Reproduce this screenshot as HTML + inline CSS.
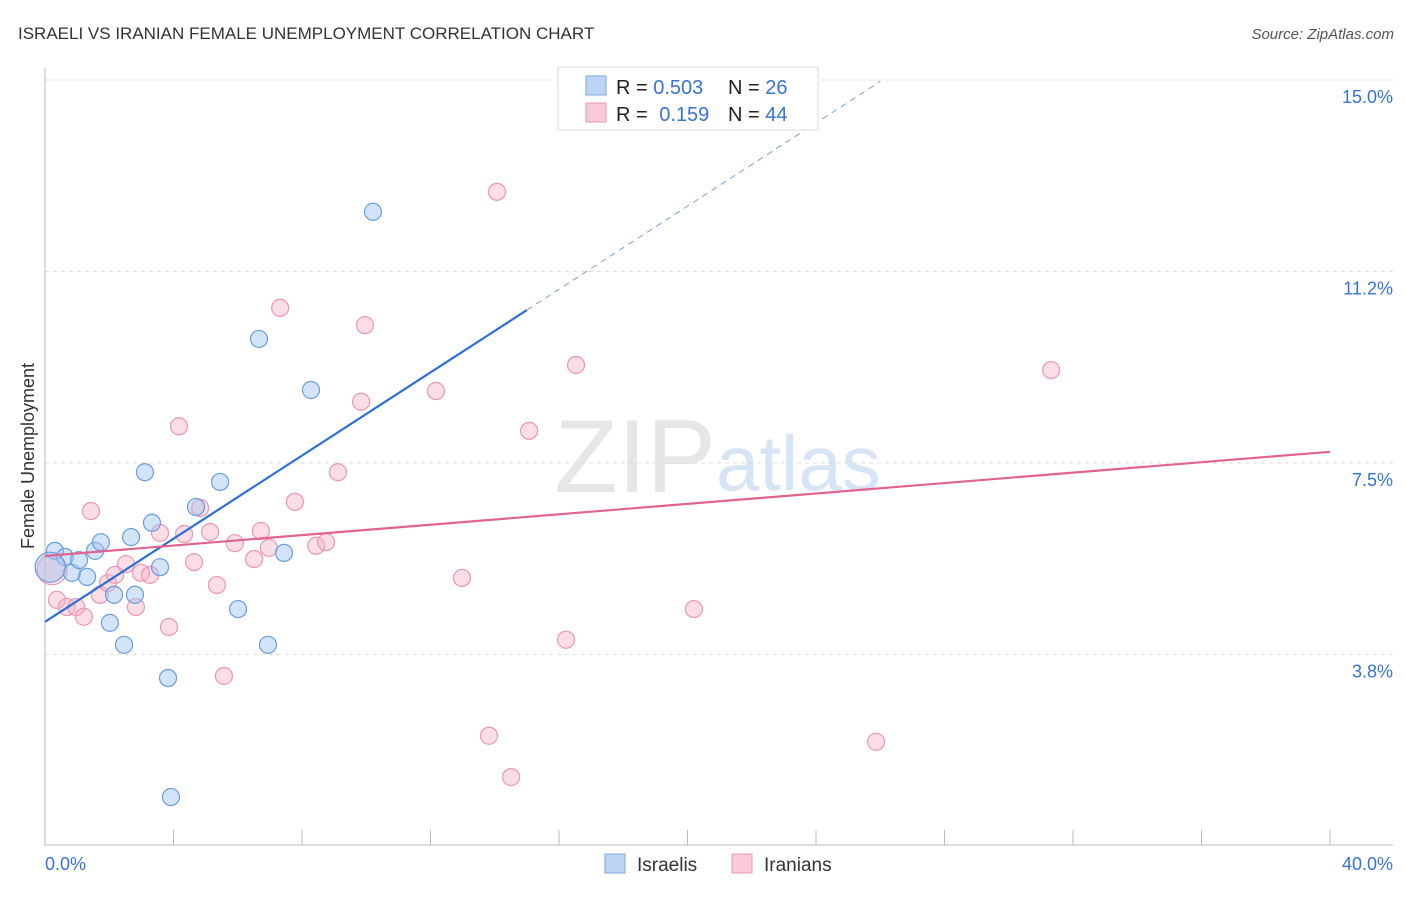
<!DOCTYPE html>
<html><head><meta charset="utf-8"><style>
body{margin:0;background:#fff;font-family:"Liberation Sans",sans-serif}
svg text{font-family:"Liberation Sans",sans-serif}
</style></head><body>
<svg id="c" width="1406" height="892">
<text x="18" y="39" font-size="17" fill="#333">ISRAELI VS IRANIAN FEMALE UNEMPLOYMENT CORRELATION CHART</text>
<text x="1394" y="39" font-size="15" fill="#555" font-style="italic" text-anchor="end">Source: ZipAtlas.com</text>
<text x="716" y="492" font-size="104" fill="#e6e6e6" text-anchor="end" font-family="Liberation Serif">ZIP</text>
<text x="716" y="490" font-size="78" fill="#d6e4f5">atlas</text>
<text transform="translate(34,456) rotate(-90)" font-size="18" fill="#333" text-anchor="middle">Female Unemployment</text>
<g id="grid"></g><g id="marks"></g>
<g>
<rect x="558" y="67" width="260" height="63" fill="#fff" stroke="#ddd"/>
<rect x="586" y="76" width="20" height="19" fill="#bcd5f5" stroke="#7aa8e6"/>
<rect x="586" y="103" width="20" height="19" fill="#f9cad8" stroke="#ec99b3"/>
<text x="616" y="94" font-size="20" fill="#222">R = <tspan fill="#3674d4">0.503</tspan><tspan x="728">N = </tspan><tspan fill="#3674d4">26</tspan></text>
<text x="616" y="121" font-size="20" fill="#222">R = <tspan fill="#3674d4" dx="6">0.159</tspan><tspan x="728">N = </tspan><tspan fill="#3674d4">44</tspan></text>
</g>
<g>
<rect x="605" y="854" width="20" height="19" fill="#bcd5f5" stroke="#7aa8e6"/>
<text x="637" y="871" font-size="19" fill="#333">Israelis</text>
<rect x="732" y="854" width="20" height="19" fill="#f9cad8" stroke="#ec99b3"/>
<text x="764" y="871" font-size="19" fill="#333">Iranians</text>
</g>
</svg>
<script>
const yTicks=[3.75,7.5,11.25,15];
const yTickLabels=["3.8%","7.5%","11.2%","15.0%"];
const xTicks=[0,4,8,12,16,20,24,28,32,36,40];
const israeliX=[0.31,0.62,0.84,1.06,1.31,1.56,1.74,2.15,2.02,2.46,2.68,2.80,3.11,3.33,3.58,3.83,3.92,4.70,5.45,6.01,6.66,6.94,7.44,8.28,10.21,0.16];
const israeliY=[5.78,5.66,5.35,5.60,5.27,5.78,5.95,4.92,4.37,3.94,6.05,4.92,7.32,6.33,5.46,3.29,0.96,6.64,7.13,4.64,9.93,3.94,5.74,8.93,12.42,5.46];
const iranianX=[0.22,0.37,0.68,0.97,1.21,1.43,1.71,1.96,2.18,2.52,2.83,2.99,3.27,3.58,3.86,4.17,4.33,4.64,4.83,5.14,5.35,5.57,5.91,6.51,6.72,6.97,7.32,7.78,8.44,8.75,9.12,9.84,9.96,12.17,12.98,14.07,13.82,14.51,15.07,16.22,16.53,20.20,25.87,31.32];
const iranianY=[5.41,4.82,4.68,4.68,4.49,6.56,4.92,5.15,5.31,5.52,4.68,5.35,5.31,6.13,4.29,8.22,6.11,5.56,6.62,6.15,5.11,3.33,5.93,5.62,6.17,5.84,10.54,6.74,5.88,5.95,7.32,8.70,10.20,8.91,5.25,12.81,2.16,1.35,8.13,4.04,9.42,4.64,2.04,9.32];
const israeliTrend=[4.39,0.407];
const iranianTrend=[5.68,0.051];
const X=v=>45+v*1285/40, Y=v=>80+(15-v)*51.07;
const NS="http://www.w3.org/2000/svg";
function mk(p,t,a){const e=document.createElementNS(NS,t);for(const k in a)e.setAttribute(k,a[k]);p.appendChild(e);return e;}
const g=document.getElementById('grid'), m=document.getElementById('marks');
yTicks.forEach((t,i)=>{
 const l=mk(g,'line',{x1:45,x2:1393,y1:Y(t),y2:Y(t),stroke:'#ddd','stroke-dasharray':'4,4'});
 
 
 const tx=mk(g,'text',{x:1393,y:Y(t)+23,'font-size':18,fill:'#3674d4','text-anchor':'end'});
 tx.textContent=yTickLabels[i];
 
 
});
mk(g,'line',{x1:45,x2:45,y1:68,y2:845,stroke:'#bbb'});
mk(g,'line',{x1:45,x2:1393,y1:845,y2:845,stroke:'#bbb'});
xTicks.forEach(t=>{const l=mk(g,'line',{x1:X(t),x2:X(t),y1:830,y2:845,stroke:'#bbb'});
 
 });
const x0=mk(g,'text',{x:45,y:870,'font-size':18,fill:'#3674d4'});x0.textContent=xTicks[0].toFixed(1)+'%';


const x1=mk(g,'text',{x:1393,y:870,'font-size':18,fill:'#3674d4','text-anchor':'end'});x1.textContent=xTicks[xTicks.length-1].toFixed(1)+'%';


function dots(xs,ys,fill,stroke,name){xs.forEach((x,i)=>{
 const big=i===(name==='israeli'?25:0);
 const c=mk(m,'circle',{cx:X(x),cy:Y(ys[i]),r:big?15:8.5,fill:fill,stroke:stroke,'stroke-width':1.2});
 
 });}
dots(iranianX,iranianY,'rgba(246,180,200,0.45)','#eb97b2','iranian');
dots(israeliX,israeliY,'rgba(160,196,240,0.45)','#6a9de0','israeli');
const b=mk(m,'line',{x1:X(0),y1:Y(israeliTrend[0]),x2:X(15),y2:Y(israeliTrend[0]+15*israeliTrend[1]),stroke:'#2c6fd6','stroke-width':2.2});


const bd=mk(m,'line',{x1:X(15),y1:Y(israeliTrend[0]+15*israeliTrend[1]),x2:X(26),y2:Y(israeliTrend[0]+26*israeliTrend[1]),stroke:'#7aa0d8','stroke-width':1,'stroke-dasharray':'6,5'});


const p=mk(m,'line',{x1:X(0),y1:Y(iranianTrend[0]),x2:X(40),y2:Y(iranianTrend[0]+40*iranianTrend[1]),stroke:'#e0648e','stroke-width':2.2});


</script>
</body></html>
